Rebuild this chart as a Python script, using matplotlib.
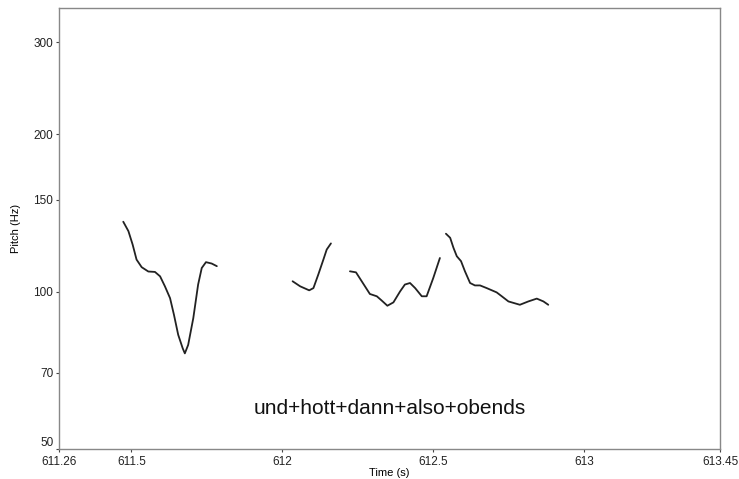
import matplotlib
matplotlib.use("Agg")
import matplotlib.pyplot as plt
from matplotlib.ticker import FixedLocator, FixedFormatter, NullLocator

plt.rcParams["font.family"] = ["Liberation Sans", "DejaVu Sans"]

# pitch contour segments (time in s, pitch in Hz)
seg1_t = [611.473, 611.490, 611.504, 611.517, 611.534, 611.556, 611.578, 611.595,
          611.611, 611.628, 611.641, 611.655, 611.670, 611.677, 611.688, 611.705,
          611.721, 611.733, 611.747, 611.766, 611.783]
seg1_f = [136.1, 130.6, 123.1, 115.2, 111.4, 109.3, 109.1, 107.0,
          102.4, 97.2, 90.3, 82.7, 77.9, 76.2, 79.1, 89.0,
          103.2, 111.0, 113.9, 113.2, 111.9]
seg2_t = [612.034, 612.059, 612.089, 612.103, 612.119, 612.136, 612.147, 612.161]
seg2_f = [104.7, 102.4, 100.6, 101.6, 107.8, 115.2, 120.4, 123.7]
seg3_t = [612.224, 612.244, 612.263, 612.290, 612.313, 612.329, 612.348, 612.368,
          612.390, 612.406, 612.423, 612.440, 612.462, 612.478, 612.500, 612.522]
seg3_f = [109.4, 108.9, 104.7, 99.0, 98.0, 96.2, 94.0, 95.4,
          100.1, 103.2, 103.9, 101.6, 98.0, 98.0, 106.2, 116.0]
seg4_t = [612.542, 612.556, 612.567, 612.578, 612.592, 612.605, 612.622, 612.638,
          612.655, 612.677, 612.710, 612.727, 612.749, 612.787, 612.815, 612.843,
          612.865, 612.881]
seg4_f = [129.1, 126.8, 121.3, 116.9, 114.4, 109.4, 103.9, 102.8,
          102.8, 101.6, 99.7, 98.0, 95.8, 94.4, 95.8, 97.0,
          95.8, 94.4]

x_ticks = [611.26, 611.5, 612, 612.5, 613, 613.45]
x_labels = ["611.26", "611.5", "612", "612.5", "613", "613.45"]
y_ticks = [50, 70, 100, 150, 200, 300]
y_labels = ["50", "70", "100", "150", "200", "300"]
words = "und+hott+dann+also+obends"

fig = plt.figure(figsize=(7.39, 4.79), dpi=100)
ax = fig.add_axes([0.0798, 0.0626, 0.8945, 0.9207])

for t, f in [(seg1_t, seg1_f), (seg2_t, seg2_f), (seg3_t, seg3_f), (seg4_t, seg4_f)]:
    ax.plot(t, f, color="#222222", linewidth=1.3, solid_capstyle="round",
            solid_joinstyle="round")

ax.set_yscale("log")
ax.set_xlim(611.26, 613.45)
ax.set_ylim(50, 349)
ax.xaxis.set_major_locator(FixedLocator(x_ticks))
ax.xaxis.set_major_formatter(FixedFormatter(x_labels))
ax.yaxis.set_major_locator(FixedLocator(y_ticks))
ax.yaxis.set_major_formatter(FixedFormatter(y_labels))
ax.yaxis.set_minor_locator(NullLocator())
ax.xaxis.set_minor_locator(NullLocator())

for s in ax.spines.values():
    s.set_color("#888888")
    s.set_linewidth(1.0)
ax.tick_params(direction="out", length=2.5, width=0.8, color="#444444",
               labelsize=8.5, labelcolor="#222222", pad=1.5)
ax.tick_params(axis="x", pad=2.5)

# nudge the bottom y label up a bit so it doesn't sit on top of 611.26
ax.get_yticklabels()[0].set_verticalalignment("bottom")

ax.set_xlabel("Time (s)", fontsize=8, labelpad=0)
ax.set_ylabel("Pitch (Hz)", fontsize=8, labelpad=9)

ax.text(612.357, 59.7, words, fontsize=15, ha="center", va="center", color="#111111")

fig.savefig("out.png", dpi=100)
